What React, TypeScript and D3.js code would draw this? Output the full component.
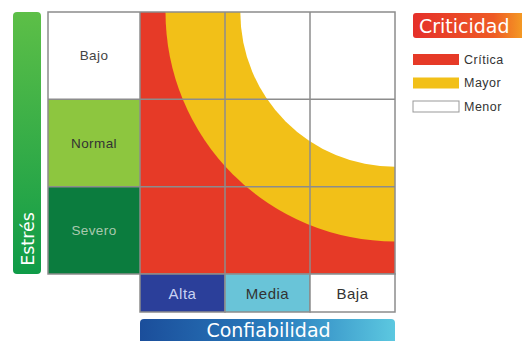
import React from "react";
import { scaleBand, scaleLinear, arc } from "d3";

const width = 522;
const height = 341;

const stressLevels = ["Bajo", "Normal", "Severo"];
const stressColors = ["#ffffff", "#8dc63f", "#0b7c3e"];
const stressText = ["#444", "#333", "#a9c9ae"];

const reliability = ["Alta", "Media", "Baja"];
const reliabilityColors = ["#2b3f9a", "#69c4d8", "#ffffff"];
const reliabilityText = ["#c9d2f2", "#333", "#333"];

// zone limits in cell widths, measured from the top-right corner (Baja / Bajo)
const zoneLimits = [1.82, 2.7];
const zoneColors = ["#ffffff", "#f2c018", "#e63a27"];

const legendLabels = ["Crítica", "Mayor", "Menor"];
const legendColors = ["#e63a27", "#f2c018", "#ffffff"];

const grid = { left: 48, top: 12, labelWidth: 92, right: 395, bottom: 274 };

const headFont = "'DejaVu Sans', Verdana, sans-serif";

export default function App() {
  const x = scaleBand().domain(reliability).range([grid.left + grid.labelWidth, grid.right]);
  const y = scaleBand().domain(stressLevels).range([grid.top, grid.bottom]);
  const r = scaleLinear().domain([0, 1]).range([0, x.bandwidth()]);
  const cx = grid.right;
  const cy = grid.top;
  const quarter = arc<any>().startAngle(Math.PI).endAngle(Math.PI * 1.5).innerRadius(0);

  const heatX = x.range()[0];
  const lineColor = "#8c8c8c";

  return (
    <svg
      width={width}
      height={height}
      style={{ position: "absolute", left: 0, top: 0, background: "#fff" }}
      fontFamily="Arial, 'Liberation Sans', sans-serif"
    >
      <defs>
        <linearGradient id="gStress" x1="0" y1="0" x2="0" y2="1">
          <stop offset="0" stopColor="#5dbf47" />
          <stop offset="1" stopColor="#0f9b48" />
        </linearGradient>
        <linearGradient id="gRel" x1="0" y1="0" x2="1" y2="0">
          <stop offset="0" stopColor="#1b4e9b" />
          <stop offset="0.55" stopColor="#2a7fbf" />
          <stop offset="1" stopColor="#5cc8e0" />
        </linearGradient>
        <linearGradient id="gCrit" x1="0" y1="0" x2="1" y2="0">
          <stop offset="0" stopColor="#e5302a" />
          <stop offset="0.7" stopColor="#ee5a25" />
          <stop offset="1" stopColor="#f5a623" />
        </linearGradient>
        <clipPath id="heatClip">
          <rect x={heatX} y={grid.top} width={grid.right - heatX} height={grid.bottom - grid.top} />
        </clipPath>
      </defs>

      {/* Estrés bar */}
      <rect x={13} y={grid.top} width={28} height={grid.bottom - grid.top} rx={4} fill="url(#gStress)" />
      <text
        transform={`translate(33.5, 239) rotate(-90)`}
        textAnchor="middle"
        fill="#fff"
        fontSize={17.5}
        fontFamily={headFont}
      >
        Estrés
      </text>

      {/* row label cells */}
      {stressLevels.map((d, i) => (
        <g key={d}>
          <rect x={grid.left} y={y(d)} width={grid.labelWidth} height={y.bandwidth()} fill={stressColors[i]} />
          <text
            x={grid.left + grid.labelWidth / 2}
            y={(y(d) as number) + y.bandwidth() / 2}
            dy="0.35em"
            textAnchor="middle"
            fontSize={13.5}
            letterSpacing={0.4}
            fill={stressText[i]}
          >
            {d}
          </text>
        </g>
      ))}

      {/* criticality zones */}
      <g clipPath="url(#heatClip)">
        <rect x={heatX} y={grid.top} width={grid.right - heatX} height={grid.bottom - grid.top} fill={zoneColors[2]} />
        {zoneLimits
          .slice()
          .reverse()
          .map((lim, i) => (
            <path
              key={lim}
              transform={`translate(${cx},${cy})`}
              d={quarter.outerRadius(r(lim))({}) as string}
              fill={zoneColors[zoneLimits.length - 1 - i]}
            />
          ))}
      </g>

      {/* grid lines */}
      <g stroke={lineColor} strokeWidth={1.5} fill="none">
        <rect x={grid.left} y={grid.top} width={grid.right - grid.left} height={grid.bottom - grid.top} />
        {stressLevels.slice(1).map((d) => (
          <line key={d} x1={grid.left} x2={grid.right} y1={y(d)} y2={y(d)} />
        ))}
        {reliability.map((d) => (
          <line key={d} x1={x(d)} x2={x(d)} y1={grid.top} y2={grid.bottom} />
        ))}
      </g>

      {/* reliability label cells */}
      {reliability.map((d, i) => (
        <g key={d}>
          <rect
            x={x(d)}
            y={grid.bottom}
            width={x.bandwidth()}
            height={38}
            fill={reliabilityColors[i]}
            stroke={lineColor}
            strokeWidth={1.5}
          />
          <text
            x={(x(d) as number) + x.bandwidth() / 2}
            y={grid.bottom + 20}
            dy="0.35em"
            textAnchor="middle"
            fontSize={15}
            letterSpacing={0.5}
            fill={reliabilityText[i]}
          >
            {d}
          </text>
        </g>
      ))}

      {/* Confiabilidad bar */}
      <rect x={heatX} y={319} width={grid.right - heatX} height={30} rx={4} fill="url(#gRel)" />
      <text
        x={(heatX + grid.right) / 2 + 1}
        y={337}
        textAnchor="middle"
        fill="#fff"
        fontSize={19}
        fontFamily={headFont}
      >
        Confiabilidad
      </text>

      {/* legend */}
      <rect x={413} y={13} width={115} height={25} rx={3} fill="url(#gCrit)" />
      <text x={419} y={33} fill="#fff" fontSize={19} fontFamily={headFont}>
        Criticidad
      </text>
      {legendLabels.map((d, i) => (
        <g key={d} transform={`translate(413, ${54 + i * 23.5})`}>
          <rect
            width={46}
            height={11}
            fill={legendColors[i]}
            stroke={i === 2 ? "#999" : "none"}
            strokeWidth={1}
          />
          <text x={51} y={5.5} dy="0.35em" fontSize={12.5} letterSpacing={0.5} fill="#333">
            {d}
          </text>
        </g>
      ))}
    </svg>
  );
}
